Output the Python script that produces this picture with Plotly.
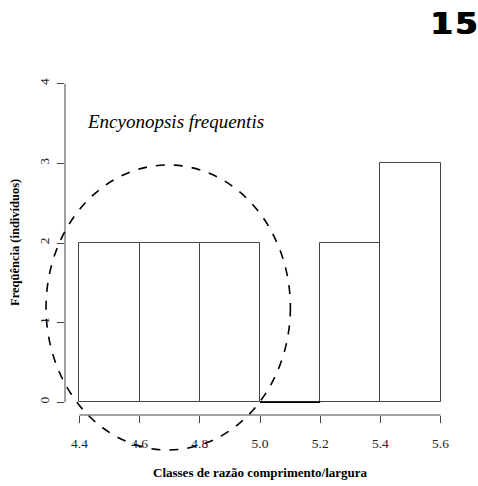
import plotly.graph_objects as go

# Data
bin_edges = [4.4, 4.6, 4.8, 5.0, 5.2, 5.4, 5.6]
counts = [2, 2, 2, 0, 2, 3]
x_ticks = [4.4, 4.6, 4.8, 5.0, 5.2, 5.4, 5.6]
x_tick_labels = ["4.4", "4.6", "4.8", "5.0", "5.2", "5.4", "5.6"]
y_ticks = [0, 1, 2, 3, 4]
# dashed ellipse (center x, center y, radius x, radius y) in data units
ellipse = dict(cx=4.695, cy=1.19, rx=0.406, ry=1.79)

centers = [(a + b) / 2 for a, b in zip(bin_edges[:-1], bin_edges[1:])]
widths = [b - a for a, b in zip(bin_edges[:-1], bin_edges[1:])]

xmin, xmax = 4.352, 5.648
ymin, ymax = -0.16, 4.16

fig = go.Figure()
fig.add_trace(go.Bar(
    x=centers, y=counts, width=widths,
    marker=dict(color="white", line=dict(color="#444", width=1)),
    showlegend=False, hoverinfo="skip",
))
# zero-height bins drawn as a flat line (as R does)
for a, b, c in zip(bin_edges[:-1], bin_edges[1:], counts):
    if c == 0:
        fig.add_trace(go.Scatter(x=[a, b], y=[c, c], mode="lines",
                                 line=dict(color="black", width=1.5),
                                 showlegend=False, hoverinfo="skip"))

serif = "Liberation Serif, Times New Roman, serif"

def px(x):
    return (x - xmin) / (xmax - xmin)

def py(y):
    return (y - ymin) / (ymax - ymin)

shapes = [
    # R-style axis lines
    dict(type="line", xref="paper", yref="y", x0=0, x1=0, y0=y_ticks[0], y1=y_ticks[-1],
         line=dict(color="#444", width=1)),
    dict(type="line", xref="x", yref="paper", x0=x_ticks[0], x1=x_ticks[-1], y0=0, y1=0,
         line=dict(color="#444", width=1)),
    # dashed ellipse
    dict(type="circle", xref="paper", yref="paper",
         x0=px(ellipse["cx"] - ellipse["rx"]), x1=px(ellipse["cx"] + ellipse["rx"]),
         y0=py(ellipse["cy"] - ellipse["ry"]), y1=py(ellipse["cy"] + ellipse["ry"]),
         line=dict(color="black", width=1.6, dash="dash"), layer="above"),
]

annotations = [
    dict(text="<i>Encyonopsis frequentis</i>", xref="paper", yref="paper",
         x=px(4.42), y=py(3.53), xanchor="left", yanchor="middle", showarrow=False,
         font=dict(family=serif, size=19, color="black")),
    dict(text="<b>Freqüência (indivíduos)</b>", xref="paper", yref="paper",
         x=0, y=0.5, xanchor="center", yanchor="middle", xshift=-50,
         textangle=-90, showarrow=False,
         font=dict(family=serif, size=12.5, color="black")),
    dict(text="<b>Classes de razão comprimento/largura</b>", xref="paper", yref="paper",
         x=0.5, y=0, xanchor="center", yanchor="middle", yshift=-57,
         showarrow=False, font=dict(family=serif, size=13, color="black")),
    dict(text="<b>1\u200a5</b>", xref="paper", yref="paper", x=1, y=1,
         xanchor="right", yanchor="middle", xshift=24, yshift=48,
         showarrow=False,
         font=dict(family="DejaVu Sans", size=31, color="black",
                   shadow="1px 0 0 black, -1px 0 0 black")),
]

fig.update_layout(
    width=478, height=486,
    margin=dict(l=64.5, r=22.5, t=71, b=71, pad=0),
    paper_bgcolor="white", plot_bgcolor="white",
    bargap=0,
    shapes=shapes, annotations=annotations,
    xaxis=dict(range=[xmin, xmax], tickvals=x_ticks, ticktext=x_tick_labels,
               ticks="outside", ticklen=7, tickcolor="#444", showgrid=False,
               zeroline=False, showline=False, ticklabelstandoff=9,
               tickfont=dict(family=serif, size=13.5, color="#222")),
    yaxis=dict(range=[ymin, ymax], tickvals=y_ticks, ticks="outside", ticklen=7,
               tickcolor="#444", showgrid=False, zeroline=False, showline=False,
               tickangle=-90, ticklabelstandoff=3,
               tickfont=dict(family=serif, size=13.5, color="#222")),
)

fig.write_html("out.html")
